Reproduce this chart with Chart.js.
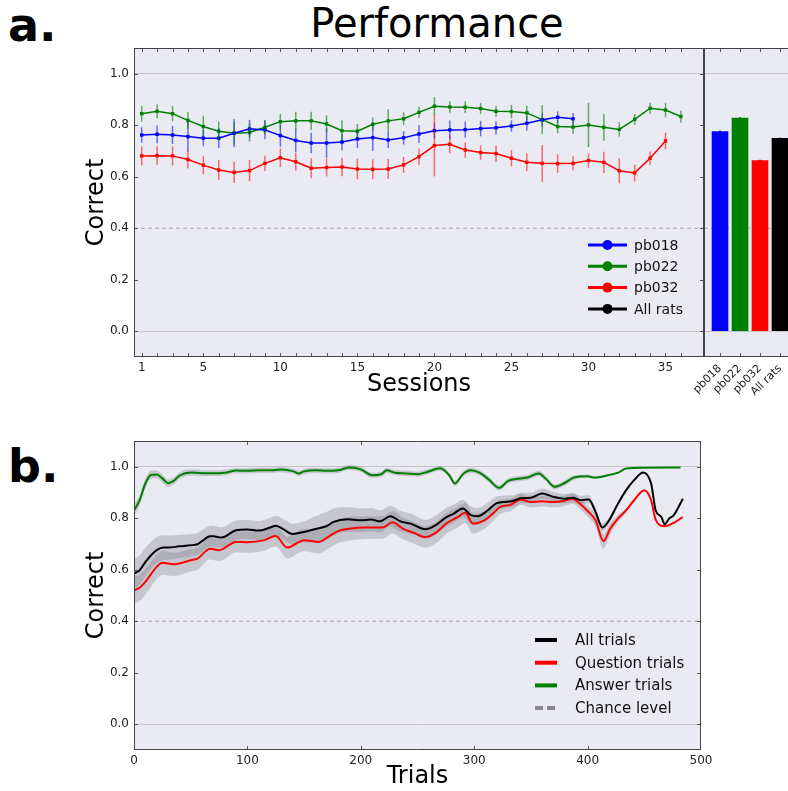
<!DOCTYPE html>
<html>
<head>
<meta charset="utf-8">
<title>Performance</title>
<script src="https://cdn.jsdelivr.net/npm/chart.js@4.4.1/dist/chart.umd.min.js"></script>
<style>
body{margin:0;background:#fff;width:788px;height:791px;overflow:hidden;position:relative;font-family:"DejaVu Sans",sans-serif}
canvas{display:block;position:absolute}
.label{position:absolute;line-height:1;color:#000;white-space:nowrap}
</style>
</head>
<body>

<div class="label" style="left:8px;top:2px;font-weight:bold;font-size:46px">a.</div>
<div class="label" style="left:0;width:874px;text-align:center;top:3px;font-size:40px">Performance</div>
<div class="label" style="left:8px;top:443px;font-weight:bold;font-size:46px">b.</div>

<canvas id="sessionChart" width="716" height="400" style="left:0;top:0"></canvas>
<canvas id="barChart" width="140" height="400" style="left:660px;top:0"></canvas>
<canvas id="trialChart" width="788" height="391" style="left:0;top:400px"></canvas>

<script>

/* ---------- data ---------- */

const sessions = [1,2,3,4,5,6,7,8,9,10,11,12,13,14,15,16,17,18,19,20,21,22,23,24,25,26,27,28,29,30,31,32,33,34,35,36]

const pb018 = [0.762,0.765,0.762,0.756,0.750,0.750,0.769,0.786,0.782,0.760,0.741,0.731,0.731,0.735,0.747,0.752,0.743,0.751,0.766,0.779,0.782,0.783,0.787,0.790,0.797,0.808,0.821,0.831,0.825]
const pb018Err = [0.03,0.035,0.035,0.058,0.032,0.039,0.054,0.035,0.036,0.043,0.045,0.04,0.058,0.032,0.036,0.052,0.031,0.026,0.035,0.031,0.036,0.032,0.03,0.026,0.022,0.028,0.026,0.023,0.023]

const pb022 = [0.845,0.854,0.845,0.819,0.795,0.777,0.769,0.772,0.792,0.814,0.817,0.817,0.805,0.779,0.777,0.804,0.817,0.825,0.850,0.874,0.871,0.870,0.865,0.854,0.853,0.848,0.822,0.795,0.793,0.801,0.792,0.784,0.823,0.866,0.859,0.834]
const pb022Err = [0.03,0.028,0.03,0.032,0.042,0.037,0.045,0.035,0.028,0.03,0.035,0.035,0.033,0.04,0.028,0.026,0.045,0.025,0.022,0.036,0.022,0.023,0.021,0.021,0.026,0.028,0.057,0.026,0.026,0.086,0.052,0.028,0.021,0.021,0.028,0.023]

const pb032 = [0.681,0.682,0.681,0.667,0.645,0.626,0.617,0.624,0.652,0.674,0.658,0.633,0.636,0.638,0.630,0.629,0.630,0.646,0.678,0.721,0.726,0.704,0.694,0.690,0.672,0.656,0.652,0.651,0.652,0.663,0.656,0.623,0.615,0.672,0.739]
const pb032Err = [0.037,0.035,0.037,0.035,0.035,0.039,0.041,0.041,0.03,0.036,0.035,0.039,0.035,0.036,0.04,0.039,0.039,0.031,0.032,0.12,0.035,0.03,0.028,0.032,0.032,0.035,0.071,0.036,0.028,0.028,0.041,0.048,0.032,0.026,0.032]

const barNames = ["pb018","pb022","pb032","All rats"]
const barMeans = [0.775,0.828,0.663,0.749]
const barErr = [0.004,0.003,0.003,0.002]

const allT = [0,5,10,20,26,30,40,50,56,60,67,70,77,90,100,110,120,125,130,140,150,160,170,176,188,200,209,217,226,235,244,257,266,275,282,290,297,303,312,319,326,334,341,350,360,370,379,387,394,401,407,413,419,426,434,441,449,456,460,465,468,472,476,484]
const allTrials = [0.585,0.598,0.630,0.676,0.686,0.686,0.691,0.695,0.699,0.711,0.730,0.730,0.725,0.753,0.756,0.752,0.764,0.771,0.762,0.739,0.747,0.758,0.770,0.786,0.796,0.792,0.795,0.788,0.808,0.788,0.779,0.757,0.773,0.803,0.818,0.838,0.812,0.808,0.831,0.857,0.863,0.867,0.878,0.880,0.896,0.883,0.876,0.880,0.870,0.873,0.825,0.764,0.792,0.850,0.909,0.948,0.978,0.935,0.831,0.805,0.777,0.799,0.812,0.876]
const allErr = [0.058,0.057,0.055,0.05,0.048,0.047,0.045,0.044,0.043,0.042,0.041,0.041,0.04,0.038,0.037,0.037,0.038,0.039,0.04,0.04,0.041,0.05,0.055,0.052,0.048,0.046,0.045,0.043,0.041,0.04,0.039,0.037,0.037,0.036,0.035,0.034,0.034,0.032,0.029,0.026,0.024,0.022,0.021,0.02,0.02,0.019,0.018,0.018,0.017,0.016,0.016,0.015,0.012,0.008,0.004,0,0,0,0,0,0,0,0,0]

const questionT = [0,5,10,20,25,35,50,56,67,75,90,100,115,125,135,150,163,172,180,191,203,212,219,228,237,247,257,266,276,285,292,299,308,316,323,332,341,350,360,370,379,387,393,400,407,414,420,426,434,441,450,456,460,468,476,484]
const questionTrials = [0.520,0.530,0.553,0.611,0.627,0.621,0.637,0.643,0.682,0.676,0.708,0.707,0.715,0.731,0.686,0.715,0.708,0.730,0.750,0.760,0.764,0.764,0.764,0.784,0.760,0.743,0.727,0.743,0.782,0.803,0.821,0.779,0.790,0.816,0.844,0.852,0.873,0.863,0.866,0.863,0.867,0.876,0.857,0.828,0.792,0.711,0.760,0.795,0.831,0.870,0.909,0.870,0.795,0.769,0.782,0.805]
const questionErr = [0.052,0.051,0.05,0.047,0.046,0.045,0.044,0.043,0.042,0.042,0.041,0.041,0.041,0.041,0.042,0.043,0.045,0.046,0.046,0.046,0.045,0.044,0.044,0.043,0.042,0.042,0.041,0.041,0.04,0.04,0.039,0.039,0.035,0.03,0.027,0.024,0.022,0.021,0.02,0.02,0.02,0.02,0.021,0.022,0.025,0.028,0.022,0.015,0.008,0,0,0,0,0,0,0]

const answerT = [0,5,10,15,20,25,30,35,40,50,60,70,80,90,100,110,120,130,140,145,150,160,170,180,190,200,210,218,223,230,240,250,258,270,278,283,290,297,305,313,322,330,340,347,357,363,371,379,388,400,406,418,427,434,450,482]
const answerTrials = [0.831,0.870,0.935,0.968,0.970,0.955,0.936,0.945,0.965,0.978,0.975,0.975,0.977,0.985,0.984,0.986,0.986,0.989,0.983,0.974,0.982,0.986,0.984,0.986,0.997,0.990,0.967,0.971,0.986,0.977,0.974,0.971,0.979,0.994,0.967,0.935,0.971,0.986,0.976,0.950,0.918,0.945,0.954,0.958,0.974,0.954,0.922,0.935,0.958,0.963,0.958,0.967,0.977,0.993,0.996,0.997]
const answerErr = [0.022,0.02,0.018,0.016,0.015,0.015,0.015,0.014,0.013,0.012,0.012,0.011,0.011,0.01,0.01,0.01,0.01,0.01,0.01,0.01,0.01,0.01,0.01,0.01,0.01,0.01,0.01,0.01,0.01,0.01,0.01,0.01,0.01,0.01,0.01,0.01,0.01,0.01,0.01,0.01,0.01,0.01,0.01,0.01,0.01,0.01,0.01,0.01,0.008,0.006,0.005,0.004,0.003,0.002,0,0]

const correctTicks = [0,0.2,0.4,0.6,0.8,1.0]
const refLines = [0,1]
const sessionTicks = [1,5,10,15,20,25,30,35]
const trialTicks = [0,100,200,300,400,500]
const chance = 0.4

const sessionRange = [0.5,37.5]
const barRange = [-0.8,3.4]
const trialRange = [0,500]
const correctRange = [-0.1,1.1]

/* ---------- helpers ---------- */

Chart.defaults.font.family = "'DejaVu Sans', sans-serif"
Chart.defaults.color = "#222"

function pts(xs, ys){
return ys.map((y,i)=>({x:xs[i], y:y}))
}

function shifted(xs, ys, err, sign){
return ys.map((y,i)=>({x:xs[i], y:y + sign*err[i]}))
}

function hline(ctx,x1,y1,x2,y2){
ctx.beginPath()
ctx.moveTo(x1,y1)
ctx.lineTo(x2,y2)
ctx.stroke()
}

const gridColor = c => (c.tick && refLines.includes(c.tick.value)) ? "#c4c4c8" : "rgba(0,0,0,0)"

function chanceLine(range){
return {
type:"line",
data:[{x:range[0],y:chance},{x:range[1],y:chance}],
borderColor:"#a4a4a8",
borderWidth:1,
borderDash:[4,3],
pointRadius:0
}
}

/* plot background, frame and the little inward ticks */
const panel = {
id:"panel",
beforeDraw(chart){
const a = chart.chartArea
const ctx = chart.ctx
ctx.save()
ctx.fillStyle = "#eaeaf2"
ctx.fillRect(a.left, a.top, a.right-a.left, a.bottom-a.top)
ctx.restore()
},
afterDraw(chart, args, o){
const a = chart.chartArea
const ctx = chart.ctx
const sx = chart.scales.x
const sy = chart.scales.y
ctx.save()
ctx.strokeStyle = "#555"
ctx.lineWidth = 1
;(o.xMarks || []).forEach(v=>{
let px = Math.round(sx.getPixelForValue(v)) + 0.5
px = Math.min(Math.max(px, a.left + 0.5), a.right - 0.5)
hline(ctx, px, a.top, px, a.top+4)
hline(ctx, px, a.bottom, px, a.bottom-4)
})
;(o.yMarks || []).forEach(v=>{
const py = Math.round(sy.getPixelForValue(v)) + 0.5
hline(ctx, a.left, py, a.left+4, py)
hline(ctx, a.right, py, a.right-4, py)
})
ctx.strokeStyle = "#444"
const l = a.left + 0.5, r = a.right - 0.5, t = a.top + 0.5, b = a.bottom - 0.5
const sides = o.sides || "ltrb"
if(sides.includes("l")) hline(ctx, l, t, l, b)
if(sides.includes("r")) hline(ctx, r, t, r, b)
if(sides.includes("t")) hline(ctx, a.left, t, a.right, t)
if(sides.includes("b")) hline(ctx, a.left, b, a.right, b)
ctx.restore()
}
}

/* vertical error bars from the dataset's errors list */
const errorBars = {
id:"errorBars",
afterDatasetsDraw(chart){
const ctx = chart.ctx
const sx = chart.scales.x
const sy = chart.scales.y
chart.data.datasets.forEach(ds=>{
if(!ds.errors) return
ctx.save()
ctx.lineWidth = ds.errorWidth || 1.5
ds.data.forEach((p,j)=>{
ctx.strokeStyle = Array.isArray(ds.errorColor) ? ds.errorColor[j] : ds.errorColor
const px = sx.getPixelForValue(p.x)
hline(ctx, px, sy.getPixelForValue(p.y - ds.errors[j]), px, sy.getPixelForValue(p.y + ds.errors[j]))
})
ctx.restore()
})
}
}

/* legend drawn inside the plot */
const inLegend = {
id:"inLegend",
afterDraw(chart, args, o){
if(!o.items) return
const ctx = chart.ctx
ctx.save()
ctx.font = o.font
ctx.textBaseline = "middle"
o.items.forEach((it,i)=>{
const y = o.y + i*o.gap
ctx.strokeStyle = it.color
ctx.lineWidth = o.lineWidth
ctx.setLineDash(it.dash ? [8,4] : [])
hline(ctx, o.x, y, o.x + o.len, y)
ctx.setLineDash([])
if(o.marker){
ctx.fillStyle = it.color
ctx.beginPath()
ctx.arc(o.x + o.len/2, y, o.marker, 0, Math.PI*2)
ctx.fill()
}
ctx.fillStyle = "#111"
ctx.fillText(it.label, o.x + o.len + o.textGap, y + 1)
})
ctx.restore()
}
}

/* ---------- a. sessions ---------- */

function sessionSet(label, color, soft, vals, err){
return {
label:label,
data:pts(sessions, vals),
errors:err,
errorColor:soft,
borderColor:color,
backgroundColor:color,
borderWidth:1.5,
pointStyle:"rect",
pointRadius:2.4,
pointBorderWidth:0
}
}

new Chart(document.getElementById("sessionChart"),{
type:"line",
data:{
datasets:[
sessionSet("pb018","#0000ff","rgba(0,0,255,0.55)",pb018,pb018Err),
sessionSet("pb022","#008000","rgba(0,128,0,0.6)",pb022,pb022Err),
sessionSet("pb032","#ff0000","rgba(255,0,0,0.55)",pb032,pb032Err),
chanceLine(sessionRange)
]
},
options:{
responsive:false,
animation:false,
layout:{padding:{top:48,left:0,right:12,bottom:0}},
plugins:{
legend:{display:false},
tooltip:{enabled:false},
panel:{xMarks:sessions, yMarks:correctTicks, sides:"ltrb"},
inLegend:{
x:588, y:245, gap:21.3, len:39, marker:5, lineWidth:3, textGap:7, font:"14px 'DejaVu Sans'",
items:[
{label:"pb018", color:"#0000ff"},
{label:"pb022", color:"#008000"},
{label:"pb032", color:"#ff0000"},
{label:"All rats", color:"#000000"}
]
}
},
scales:{
x:{
type:"linear",
min:sessionRange[0], max:sessionRange[1],
afterFit:s=>{s.height = 43},
afterBuildTicks:s=>{s.ticks = sessionTicks.map(v=>({value:v}))},
grid:{display:false, drawTicks:false},
border:{display:false},
ticks:{padding:4, font:{size:12}, maxRotation:0, autoSkip:false},
title:{display:true, text:"Sessions", color:"#000", font:{size:24}, padding:{top:0,bottom:1}}
},
y:{
min:correctRange[0], max:correctRange[1],
afterFit:s=>{s.width = 134},
afterBuildTicks:s=>{s.ticks = correctTicks.map(v=>({value:v}))},
grid:{color:gridColor, drawTicks:false},
border:{display:false},
ticks:{padding:5, font:{size:12}, callback:v=>v.toFixed(1)},
title:{display:true, text:"Correct", color:"#000", font:{size:24}, padding:{top:82,bottom:0}}
}
}
},
plugins:[panel, errorBars, inLegend]
})

/* ---------- a. per-rat averages ---------- */

const barColors = ["#0000ff","#008000","#ff0000","#000000"]

new Chart(document.getElementById("barChart"),{
type:"bar",
data:{
datasets:[
{
data:barMeans.map((v,i)=>({x:i, y:v})),
backgroundColor:barColors,
errors:barErr,
errorColor:barColors,
errorWidth:2,
barThickness:16,
borderWidth:0
},
chanceLine(barRange)
]
},
options:{
responsive:false,
animation:false,
layout:{padding:{top:48,left:44,right:12,bottom:0}},
plugins:{
legend:{display:false},
tooltip:{enabled:false},
panel:{xMarks:[0,1,2,3], yMarks:[], sides:"ltb"}
},
scales:{
x:{
type:"linear",
offset:false,
min:barRange[0], max:barRange[1],
afterFit:s=>{s.height = 43},
afterBuildTicks:s=>{s.ticks = barNames.map((n,i)=>({value:i}))},
grid:{display:false, drawTicks:false},
border:{display:false},
ticks:{padding:5, font:{size:11}, minRotation:45, maxRotation:45, autoSkip:false, callback:v=>barNames[v]}
},
y:{
min:correctRange[0], max:correctRange[1],
afterFit:s=>{s.width = 0},
afterBuildTicks:s=>{s.ticks = correctTicks.map(v=>({value:v}))},
grid:{color:gridColor, drawTicks:false},
border:{display:false},
ticks:{display:false}
}
}
},
plugins:[panel, errorBars]
})

/* ---------- b. trials ---------- */

const bandFill = "rgba(115,115,125,0.3)"

function trialLine(label, color, xs, ys){
return {
label:label,
data:pts(xs, ys),
borderColor:color,
borderWidth:2,
pointRadius:0,
cubicInterpolationMode:"monotone"
}
}

function band(xs, ys, err, sign, fill){
return {
data:shifted(xs, ys, err, sign),
borderWidth:0,
borderColor:"rgba(0,0,0,0)",
backgroundColor:bandFill,
pointRadius:0,
cubicInterpolationMode:"monotone",
fill:fill
}
}

new Chart(document.getElementById("trialChart"),{
type:"line",
data:{
datasets:[
trialLine("All trials","#000000",allT,allTrials),
trialLine("Question trials","#ff0000",questionT,questionTrials),
trialLine("Answer trials","#008000",answerT,answerTrials),
band(allT,allTrials,allErr,1,false),
band(allT,allTrials,allErr,-1,"-1"),
band(questionT,questionTrials,questionErr,1,false),
band(questionT,questionTrials,questionErr,-1,"-1"),
band(answerT,answerTrials,answerErr,1,false),
band(answerT,answerTrials,answerErr,-1,"-1"),
chanceLine(trialRange)
]
},
options:{
responsive:false,
animation:false,
layout:{padding:{top:41,left:0,right:87,bottom:0}},
plugins:{
legend:{display:false},
tooltip:{enabled:false},
filler:{drawTime:"beforeDatasetsDraw"},
panel:{xMarks:trialTicks, yMarks:correctTicks, sides:"ltrb"},
inLegend:{
x:535, y:240, gap:22.7, len:22, marker:0, lineWidth:4, textGap:18, font:"15px 'DejaVu Sans'",
items:[
{label:"All trials", color:"#000000"},
{label:"Question trials", color:"#ff0000"},
{label:"Answer trials", color:"#008000"},
{label:"Chance level", color:"#888888", dash:true}
]
}
},
scales:{
x:{
type:"linear",
min:trialRange[0], max:trialRange[1],
afterFit:s=>{s.height = 41},
afterBuildTicks:s=>{s.ticks = trialTicks.map(v=>({value:v}))},
grid:{display:false, drawTicks:false},
border:{display:false},
ticks:{padding:4, font:{size:12}, maxRotation:0, autoSkip:false},
title:{display:true, text:"Trials", color:"#000", font:{size:24}, padding:{top:0,bottom:0}}
},
y:{
min:correctRange[0], max:correctRange[1],
afterFit:s=>{s.width = 134},
afterBuildTicks:s=>{s.ticks = correctTicks.map(v=>({value:v}))},
grid:{color:gridColor, drawTicks:false},
border:{display:false},
ticks:{padding:5, font:{size:12}, callback:v=>v.toFixed(1)},
title:{display:true, text:"Correct", color:"#000", font:{size:24}, padding:{top:82,bottom:0}}
}
}
},
plugins:[panel, inLegend]
})

</script>
</body>
</html>
